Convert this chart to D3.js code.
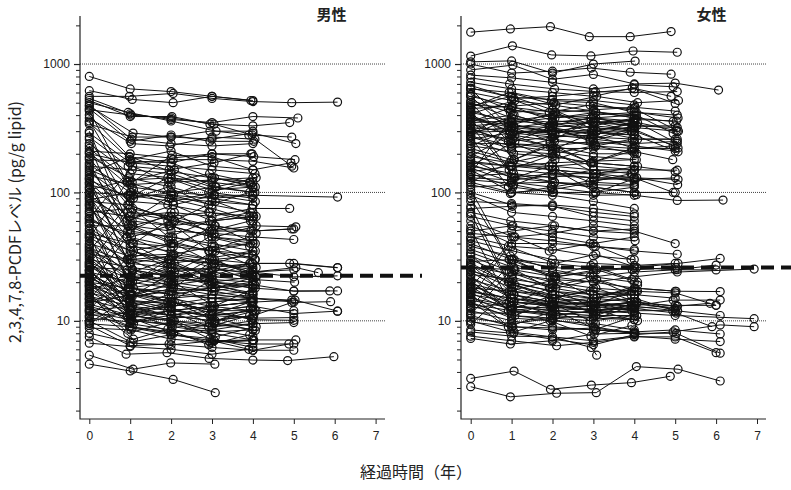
<!DOCTYPE html>
<html><head><meta charset="utf-8">
<script src="https://cdn.jsdelivr.net/npm/d3@7"></script>
<style>
body{margin:0;background:#fff;}
svg{display:block;}
text{font-family:"Liberation Sans",Arial,sans-serif;}
.cjk{font-family:"Noto Sans CJK JP","Noto Sans",sans-serif;}
</style></head>
<body>
<svg id="c" width="791" height="490"></svg>
<script>
// ---- data: each subject is a flat list of [time(years), level(pg/g lipid)] pairs ----
const maleSeries = [
[0,800,1,640,2,610,3,560,4,520],
[0,560,0.98,560,2.05,590,3,540,4,510,4.95,500,6.07,505],
[0,620,1.05,530,2.05,500,3,560,3.95,520],
[0,540,1,410,2,370,3,350,4,390,5.1,380],
[0,520,1,390,2.02,390,2.95,340,4,330,4.9,350],
[0,500,0.95,420,2,360,3.1,300,3.9,280,4.95,270],
[0,470,1.07,290,2,270,3,260,4,290,5.05,240],
[0,450,1,250,2,280,2.95,250,4.02,250],
[0,440,1.02,400,2,380,3.05,340,3.98,280],
[0,400,0.98,190,2,170,3,200,4.02,190,5.03,180],
[0,380,1.03,240,1.97,230,3,270,4.05,260,4.95,160],
[0,350,1,180,2,210,3,160,4,150],
[0,340,1.05,270,2,270,2.95,300,4,300],
[0,290,1,170,2.05,180,3,180,4,175,5,155],
[0,270,0.95,160,1.95,150,3.05,170,3.95,200],
[0,240,1,140,2,130,3,120,4,110],
[0,220,1.05,120,2.03,195,3,190,4,150,4.93,170],
[0,210,1,200,2,185,3,200,3.98,200],
[0,190,0.97,130,2,110,3,90,4,80],
[0,180,1.02,175,2,170,3,130,4,120],
[0,165,1,100,1.95,90,3,75,4,60],
[0,150,1.05,110,2,100,3.05,95,4,95,6.07,92],
[0,145,1,85,2.05,80,3,60,4.02,65],
[0,140,0.98,190,2,145,3,130,3.95,115],
[0,135,1,115,2,120,3,125,4,130],
[0,130,1.03,70,2,65,3,55,4,50,5,52],
[0,125,1,90,2,100,3.1,110,4.05,100],
[0,120,1.05,60,1.97,55,3,45,4,40],
[0,115,0.95,95,2.05,85,3,100,4,90],
[0,110,1,65,2,70,3,65,3.98,75,4.9,75],
[0,100,1,95,2,95,3,80,4,70],
[0,95,1.02,55,2,50,3.05,48,4,45,5,43],
[0,90,1,60,2,95,3,90,4,95],
[0,85,0.97,80,2.03,60,3,50,4,55,5.05,54],
[0,80,1,50,2,45,3,40,4,35],
[0,75,1.05,40,2,38,3,35,4.05,30],
[0,70,1,75,2,65,2.95,70,4,60],
[0,65,1,38,2,35,3,30,4,28,5,28,6.07,26],
[0,62,1.03,45,1.95,55,3,45,4,42],
[0,58,1,30,2.05,32,3.05,28,4,25],
[0,55,0.95,55,2,40,3,50,3.95,50,4.95,52],
[0,52,1,35,2,30,3,28,4,24,5,25],
[0,50,1.05,25,2,22,3,20,4,18],
[0,48,1,40,2,28,3,22,4,21,5.02,20],
[0,45,1,28,2.02,26,3,25,4,24,5,22,6.07,22.4],
[0,42,1.02,22,2,20,3,18,4,16],
[0,40,0.97,32,2,33,3,30,4,32],
[0,38,1,20,2,18,3.05,17,4,15,4.95,14.5],
[0,36,1.05,24,1.95,30,3,28,4,26],
[0,34,1,22,2,21,3,20,4.05,19,5,17,5.88,17.1],
[0,32,1,18,2.05,16,3,15,4,14],
[0,30,1.02,26,2,24,3,26,3.98,28,4.9,28,6.07,25.9],
[0,29,1,14,2,14,3,12,4,13,5,11.4,6.07,11.9],
[0,28,0.97,18,2,20,3,22,4,24,5.05,26,5.6,23.7],
[0,27,1,16,2,15,2.95,13,4,12],
[0,26,1.05,25,2,22,3,24,4,22],
[0,25,1,13,2,12,3,11,4,10.5,5,10.6],
[0,24,1,20,1.97,26,3.05,20,4,18,5,17.1,6.07,17.1],
[0,23,1.02,12,2,11,3,10,4.02,11,4.95,13.9,5.9,14.1],
[0,22,1,15,2.05,18,3,16,4,15],
[0,21,1,11,2,12,3,13,4,14,5.03,14.5,6.07,11.9],
[0,20,0.95,18,2,16,3,18,4,20],
[0,19.5,1.05,10,2,9.5,3,9,4,10],
[0,19,1,16,2,13,3,14,3.95,15,5,14],
[0,18,1,12,2.03,14,3,12,4,12],
[0,17.5,1.02,22,2,24,3,20,4,22],
[0,17,1,11,2,10,3.05,9.5,4,8.5],
[0,16.5,0.98,14,2,12,3,11,4.05,12,5,12],
[0,16,1,9.5,2,8.5,3,8,4,7.1,5.05,7.1],
[0,15.5,1.05,13,2,15,3,16,4,17],
[0,15,1,10,2,11,3,12,4,13],
[0,14.5,1,12,2.05,10,3,9,4,9.5,5,9.7],
[0,14,0.95,18,1.97,17,3,15,4,16],
[0,13.5,1,11,2,10,3.05,7,4,6.6,5,6.6],
[0,13,1.02,10.5,2,12,3,13,3.98,14],
[0,12.5,1,9,2,8,2.95,6.8,4.02,7.1],
[0,12,1,13,2,11,3,10,4,11],
[0,11.5,1.05,8.8,2,7.8,3,7,4,5.9,5,5.9],
[0,11,1,11.5,2.03,9,3,8.2,4,8.5],
[0,10.5,1,9.8,2,10.5,3,11,4,12],
[0,10,1.07,6.7,2,6.5,3.05,7,4,7.1],
[0,9.5,0.98,9,2,8.2,3,8.5,4,9.5],
[0,9.2,1,6.4,1.95,6.6,3,6.2,4,5.9,4.88,6.6],
[0,8.8,1.02,8.5,2,7.2,3,6.8,4,7],
[0,8,1,6.8,2,7.8,2.95,7.3,4,6.2],
[0,7.5,0.9,5.5,1.9,5.65,2.93,5.1,4,4.95,4.85,4.9,5.98,5.26],
[0,6.7,1,6.3,2,6,3,5.5,3.9,6],
[0,5.4,1.07,4.2,1.99,4.7,3.07,4.6],
[0,4.6,1,4.07,2.05,3.5,3.08,2.76],
[0,200,1,170,2,160,3,150,4.05,140],
[0,160,1.05,150,2,140,3,110,4,100],
[0,105,1,125,2,130,3,105,4,110],
[0,88,1.03,100,2,90,3,85,4,80],
[0,72,0.96,65,2,55,3,60,4,65],
[0,60,1,48,2.04,45,3,38,4,40],
[0,46,1.02,35,2,40,3.02,35,4,33],
[0,37,1,28,2,32,3,26,4,23],
[0,33,1.05,30,2,28,3,31,4,35],
[0,31,1,16,2,19,3,21,4,20],
[0,28.5,1.02,21,2.03,19,3,17,4,19],
[0,26.5,1,19,2,23,2.97,19,4,16.5],
[0,24.5,0.97,14.5,2,13.5,3,15,4,14.5],
[0,22.5,1,17,2,14,3,11.5,4,10.5],
[0,21.5,1.05,15.5,2.02,17,3,18,4,19],
[0,20.5,1,12.5,2,11,3.03,13,4,14],
[0,18.5,1,14.5,2,12.5,3,10.5,4,9],
[0,13.8,1.04,16,2,14,3,12,3.97,10.2,5,10.1],
[0,11.8,1,10.2,2,9.2,3,8.6,4,7.6],
[0,9.8,1.02,12,2,13,3,14,4,15],
[0,480,1.03,260,2,240,3,230,4,240],
[0,430,0.93,120,2.08,150,3.08,110,4.08,130],
[0,360,1.08,95,1.92,130,2.92,100,3.92,120],
[0,300,0.92,60,2.06,80,3.06,95,4.06,85],
[0,260,1.06,75,1.94,45,2.94,60,3.94,70],
[0,230,0.94,50,2.08,70,3.08,45,4.08,55],
[0,170,1.08,40,1.92,60,2.92,35,3.92,45],
[0,128,0.92,30,2.06,40,3.06,28,4.06,35],
[0,118,1.06,25,1.94,20,2.94,30,3.94,24],
[0,98,0.94,20,2.08,28,3.08,18,4.08,22],
[0,82,1.08,18,1.92,14,2.92,20,3.92,16],
[0,68,0.92,15,2.06,20,3.06,13,4.06,18],
[0,57,1.06,13,1.94,16,2.94,11,3.94,14],
[0,47,0.94,11,2.08,14,3.08,10,4.08,12],
[0,39,1.08,9.5,1.92,12,2.92,9,3.92,11],
[0,12.2,0.92,25,2.06,18,3.06,30,4.06,22],
[0,10.8,1.06,20,1.94,30,2.94,22,3.94,28],
[0,9.6,0.94,15,2.08,24,3.08,35,4.08,26],
[0,14.8,1.08,35,1.92,28,2.92,45,3.92,38],
[0,18.8,0.92,45,2.06,38,3.06,55,4.06,40],
[0,23.5,1.06,55,1.94,65,2.94,50,3.94,60],
[0,27.5,0.94,70,2.08,60,3.08,85,4.08,65],
[0,35,1.08,90,1.92,110,2.92,80,3.92,100],
[0,44,0.92,120,2.06,95,3.06,130,4.06,110],
[0,63,1.06,160,1.94,120,2.94,140,3.94,120],
[0,78,0.94,30,2.08,22,3.08,26,4.08,20],
[0,92,1.08,35,1.92,26,2.92,24,3.92,28],
[0,108,0.92,45,2.06,33,3.06,38,4.06,30],
[0,155,1.06,55,1.94,42,2.94,35,3.94,40],
[0,185,0.94,80,2.08,60,3.08,55,4.08,48],
[0,205,1.08,105,1.92,80,2.92,70,3.92,65],
[0,16.2,0.94,8,2.08,10,3.08,7.5,4.08,9],
[0,13.2,1.08,7.2,1.92,8.6,2.92,6.5,3.92,7.8],
[0,20.2,0.92,10.8,2.06,8,3.06,9.8,4.06,8.4],
[0,24.8,1.06,11.2,1.94,13,2.94,9.6,3.94,12.5]
];
const femaleSeries = [
[0,1770,0.97,1875,1.95,1955,2.9,1634,3.9,1634,4.9,1790],
[0,1154,1.02,1387,1.98,1177,2.94,1157,3.97,1263,5.05,1235],
[0,1040,1,1058,2,850,3,1000,4.02,1055],
[0,1000,1,850,2,880,2.95,930,3.9,863,4.9,833],
[0,900,1.03,980,2,760,3,830,4,700,5,710,6.06,627],
[0,820,1,780,2,720,3,640,4,690,4.95,665],
[0,780,0.95,700,2.05,640,3.05,610,4,600,5.05,610],
[0,720,1,640,2,600,3,560,3.95,650,4.9,560],
[0,680,1.05,540,2,560,3,600,4,640,5,493],
[0,640,1,600,1.97,520,3,500,4,420,5.05,400],
[0,600,1,520,2,480,3,430,4,380,4.95,357],
[0,560,1.03,470,2.03,500,3,470,4,450,5.02,305],
[0,520,0.97,420,2,440,3.05,420,4.05,400,4.95,288],
[0,500,1,380,2,350,3,380,4,360,5.05,241],
[0,470,1,560,2,440,3,330,4,310,5.07,222],
[0,440,1.05,330,2,300,2.97,290,4,280,5.07,207],
[0,420,1,360,2.02,400,3,360,3.97,330,5,330],
[0,400,0.95,300,2,280,3,260,4,240,5.05,250],
[0,380,1,330,2,320,3,350,4.02,370,5.03,360],
[0,360,1.02,400,2,330,3,320,4,300,5,230],
[0,340,1,280,2.05,250,3.02,240,4,250],
[0,330,1,350,2,380,3,400,4.05,420,5.07,380],
[0,320,1.05,300,1.97,300,3,300,4,350],
[0,310,0.98,250,2,270,3,280,4,220,5,220],
[0,300,1,320,2,350,2.95,300,4,280],
[0,290,1.03,260,2,230,3,200,4,200],
[0,280,1,380,2,320,3,280,4,330],
[0,270,1,220,2.03,260,3.05,230,3.95,260,5.05,260],
[0,260,0.97,290,2,300,3,330,4,380],
[0,250,1.05,200,2,190,3,170,4,160],
[0,240,1,240,2,230,3,250,4.02,230,5,210],
[0,220,1,180,2,160,3,150,4,150,5.05,149],
[0,200,1.02,150,2,140,3,130,4,130,5.07,126],
[0,190,0.95,170,2,200,3,160,4,150],
[0,180,1,130,2.05,120,3,110,4,100,5,100],
[0,170,1,160,2,150,3.05,140,4,130,4.95,100],
[0,160,1.05,140,2,130,3,150,3.95,140],
[0,155,1,120,1.97,110,3,100,4,95,5.05,86.6,6.17,87.2],
[0,150,1,100,2,105,3,120,4,115],
[0,145,0.97,160,2,170,3,175,4,180],
[0,140,1.03,110,2.03,100,3,95,4.05,96],
[0,130,1,125,2,135,3,130,4,125,5,130],
[0,120,1,100,2,95,3,85,4,75],
[0,110,1.05,115,2,100,3.05,100,4,110],
[0,100,1,80,2,78,3,65,4,60],
[0,95,1,70,2,65,3,60,4,55],
[0,75,1.02,78,2,80,3,75,4,68],
[0,70,0.98,60,2.05,55,3,50,4,48],
[0,65,1,55,2,50,3,45,4.02,42],
[0,60,1.05,45,2,48,3,55,4,50,5,40],
[0,55,1,40,2,40,3.05,38,4,35,5.05,33],
[0,45,1,38,2,36,3,32,4,30],
[0,42,1.03,35,2,30,3,28,4,27,5,28],
[0,40,1,30,1.97,28,3,26,3.95,25,5.02,26],
[0,38,0.97,32,2,25,3,22,4,20],
[0,36,1,28,2.03,22,3,20,4,18,5,17],
[0,34,1.05,26,2,24,3,22,4,24,5.05,25,6,27.2],
[0,32,1,24,2,20,3,18,4.05,17],
[0,30,1,22,2,18,3,16,4,16,5,15],
[0,29,1.02,30,2,26,3,25,4,26,5.07,28,6.1,30.6],
[0,28,0.95,20,2,17,3.02,15,4,14],
[0,27,1,19,2,16,3,14,4,13,5,12],
[0,26,1.05,25,2.05,22,3,24,4,26,5,25,6,24.9],
[0,25,1,18,2,15,3,13,4,12],
[0,24,1,16,2,14,3.05,13,4,14,5.05,13],
[0,23,1.03,21,2,19,3,17,4,16],
[0,22,1,15,1.97,13,3,12,4,12.5,5,13.2,6,13.2],
[0,21,1,17,2,16,3,15,4.02,18,5.02,17,6.1,16.9],
[0,20,0.98,13,2,12,3,11.5,4,12],
[0,19.5,1.05,16,2,14,3,15,4,16],
[0,19,1,14,2.03,13,3,12,3.95,13,4.95,14.5,6.1,14.5],
[0,18.5,1,12,2,11.5,3,11,4,11],
[0,18,1.02,17,2,15,3.05,14,4,15],
[0,17.5,1,13,2,12,3,12.5,4,14,5.05,13,5.85,13.7],
[0,17,0.97,15,2,14,3,13.5,4,13],
[0,16.5,1,12,1.95,11,3,10.5,4,10.2],
[0,16,1.05,14,2,13,3,12,4.05,13.5,5,12.5],
[0,15.5,1,11,2,10.5,3,10,4,11],
[0,15,1,13,2.05,12.5,3,13,4,14],
[0,14.5,1.02,12.5,2,11,3,12,4,12.5,5.02,11.5,5.9,9],
[0,14,1,10.5,2,10,3.05,9.5,4,8.5],
[0,13.5,0.98,12,2,13,3,13,4,14],
[0,13,1,11,2,10.2,3,9,4,8],
[0,12.5,1.05,14,2.03,13.5,3,14,4,15,5,12,6.1,11],
[0,12,1,10,2,9,3,8.5,4,8.2,5,8.5,6.1,7.9],
[0,11.5,1,11.5,2,12,3,11.5,4,12],
[0,11,1.03,9,2,8.5,3.02,8.8,4,8],
[0,10.5,1,9.5,2,10.5,3,11,4,10.2],
[0,10,0.97,8.2,2,7.5,3,7,4,7.6,5,7.2,6.1,6.9],
[0,9.8,1,9,2,8.8,3.05,8.5,4,8],
[0,8.5,1.05,8,2,7.2,3,6.5,4,7.8,4.95,8.2,6.1,9.3,6.93,9],
[0,8.2,1,7.6,2,7.5,2.95,6.2,3.08,5.4],
[0,7.6,1,7,2.1,6.4,3,6.8,4,7.5,5,7.5,6,5.65],
[0,7.3,0.97,6.6,2,7,3.02,7.9,4.02,8,5.03,8,6.1,5.6],
[0,3.56,1.06,4.06,1.95,2.93,2.95,3.16,3.93,3.3,4.88,3.7],
[0,3.07,0.97,2.56,2.1,2.73,3.07,2.76,4.05,4.4,5.07,4.2,6.1,3.4],
[0,24.5,1,20,2,17,3,16,4,17,5,16.5,6,13.2],
[0,16.8,1,15,2,13.5,3,12,4,11.5,5,11,6.93,10.4],
[0,26.5,1.02,23,2,21,3,20,4,22,5.05,24,6.93,25.3],
[0,650,1,550,2,530,3,520,4,480],
[0,580,0.97,440,2,400,3,380,4,400],
[0,480,1,460,2.05,420,3,440,4.02,460,5,430],
[0,450,1,470,2,360,3.05,350,4,330,5.05,320],
[0,390,1.03,290,2,270,3,300,4,300],
[0,370,1,320,2,300,2.95,270,4,260,5,260],
[0,350,1,360,2.03,340,3,350,3.97,360],
[0,315,0.98,240,2,220,3,220,4,210],
[0,295,1.05,300,2,290,3,310,4,320,5.05,300],
[0,275,1,230,2,210,3,190,4.05,180],
[0,230,1,210,2,200,3,230,4,220,4.95,230],
[0,210,1.02,170,2,150,3,140,4,120],
[0,175,1,160,2,160,3,170,4,160,5,145],
[0,165,1.05,130,2,140,3,140,4,145],
[0,135,1,140,2.05,120,3,115,4,112],
[0,115,0.97,98,2,110,3.02,125,4,130],
[0,125,1,118,2,120,3,110,4,100],
[0,85,1,82,2,78,3,70,4,65],
[0,50,1.03,55,2,45,3,40,4,45],
[0,48,1,45,2,42,3,38,4,36],
[0,44,1,50,2,55,3,50,4,52],
[0,640,0.93,330,2.08,420,3.08,300,4.08,350,5.08,300],
[0,560,1.08,280,1.92,330,2.92,250,3.92,300],
[0,500,0.92,250,2.06,180,3.06,230,4.06,200],
[0,430,1.06,180,1.94,240,2.94,170,3.94,210,4.94,180],
[0,380,0.94,150,2.08,200,3.08,140,4.08,160],
[0,330,1.08,130,1.92,160,2.92,120,3.92,140],
[0,270,0.92,110,2.06,150,3.06,100,4.06,130,5.06,115],
[0,230,1.06,320,1.94,250,2.94,360,3.94,300],
[0,190,0.94,280,2.08,220,3.08,300,4.08,260],
[0,160,1.08,250,1.92,320,2.92,260,3.92,310],
[0,140,0.92,350,2.06,280,3.06,380,4.06,330],
[0,120,1.06,180,1.94,230,2.94,170,3.94,220],
[0,105,0.94,30,2.08,22,3.08,25,4.08,20],
[0,90,1.08,25,1.92,18,2.92,22,3.92,16],
[0,78,0.92,20,2.06,15,3.06,18,4.06,14],
[0,68,1.06,16,1.94,13,2.94,14,3.94,12,4.94,12],
[0,52,0.94,14,2.08,11,3.08,12,4.08,10],
[0,18.2,1.08,45,1.92,35,2.92,40,3.92,30],
[0,15.2,0.92,38,2.06,28,3.06,33,4.06,26],
[0,12.8,1.06,30,1.94,22,2.94,27,3.94,21],
[0,11.2,0.94,24,2.08,18,3.08,21,4.08,17],
[0,9.4,1.08,19,1.92,15,2.92,17,3.92,14],
[0,22.5,0.92,12,2.06,16,3.06,11,4.06,14,5.06,12],
[0,27.5,1.06,14,1.94,18,2.94,13,3.94,17],
[0,33,0.94,17,2.08,21,3.08,15,4.08,19],
[0,20.5,1.08,11,1.92,14,2.92,10,3.92,13],
[0,16.2,0.92,9,2.06,12,3.06,8.6,4.06,11],
[0,14.2,1.06,8.2,1.94,10,2.94,7.6,3.94,9.2],
[0,460,0.94,600,2.08,480,3.08,560,4.08,500,5.08,520],
[0,410,1.08,520,1.92,420,2.92,480,3.92,440],
[0,355,0.92,450,2.06,380,3.06,420,4.06,380],
[0,300,1.06,400,1.94,330,2.94,380,3.94,340]
];
const panelTitles = ["男性", "女性"];
const referenceLevels = [22.4, 26];          // thick dashed lines
const xTickValues = [0,1,2,3,4,5,6,7];
const yMajorTicks = [10,100,1000];
const yMinorTicks = [2,3,4,5,6,7,8,9,20,30,40,50,60,70,80,90,200,300,400,500,600,700,800,900,2000];
const yAxisTitle = "2,3,4,7,8-PCDFレベル (pg/g lipid)";
const xAxisTitle = "経過時間（年）";

// ---- drawing ----
const svg = d3.select("#c");
const y = d3.scaleLog().domain([1.72, 2366]).range([419, 16]);

const panels = [
  {series: maleSeries, axisX: 80, axisEnd: 385, x0: 89.3, x7: 375.6, titleX: 331.5, refEnd: 422},
  {series: femaleSeries, axisX: 461, axisEnd: 766, x0: 470.7, x7: 757, titleX: 711.5, refEnd: 791}
];

panels.forEach((p, i) => {
  const x = d3.scaleLinear().domain([0,7]).range([p.x0, p.x7]);
  const g = svg.append("g");

  g.selectAll("line.grid").data(yMajorTicks).join("line")
    .attr("x1", p.axisX).attr("x2", p.axisEnd)
    .attr("y1", d => y(d)).attr("y2", d => y(d))
    .attr("stroke", "#444").attr("stroke-width", 1).attr("stroke-dasharray", "1,1");

  g.append("g").attr("transform", `translate(${p.axisX},0)`)
    .call(d3.axisLeft(y).tickValues(yMinorTicks).tickSize(4).tickFormat(""))
    .call(a => a.select(".domain").remove())
    .selectAll("line").attr("stroke", "#222");
  const ya = g.append("g").attr("transform", `translate(${p.axisX},0)`)
    .call(d3.axisLeft(y).tickValues(yMajorTicks).tickSize(6).tickPadding(4).tickFormat(d3.format("d")))
    .call(a => a.select(".domain").remove());
  ya.selectAll("line").attr("stroke", "#222").attr("stroke-width", 1.2);
  ya.selectAll("text").attr("font-size", 12).attr("fill", "#222")
    .attr("font-family", "'Liberation Sans', Arial, sans-serif");

  const xa = g.append("g").attr("transform", `translate(0,419)`)
    .call(d3.axisBottom(x).tickValues(xTickValues).tickSize(5).tickPadding(7).tickFormat(d3.format("d")))
    .call(a => a.select(".domain").remove());
  xa.selectAll("line").attr("stroke", "#222");
  xa.selectAll("text").attr("font-size", 12).attr("fill", "#222")
    .attr("font-family", "'Liberation Sans', Arial, sans-serif");

  g.append("path")
    .attr("d", `M${p.axisX},16V419H${p.axisEnd}`)
    .attr("fill", "none").attr("stroke", "#222").attr("stroke-width", 1.2);

  const line = d3.line().x(d => x(d[0])).y(d => y(d[1]));
  const subjects = p.series.map(s => {
    const pts = [];
    for (let k = 0; k < s.length; k += 2) pts.push([s[k], s[k+1]]);
    return pts;
  });
  const sg = g.append("g");
  subjects.forEach(pts => {
    sg.append("path").attr("d", line(pts))
      .attr("fill", "none").attr("stroke", "#111").attr("stroke-width", 1);
    sg.selectAll(null).data(pts).join("circle")
      .attr("cx", d => x(d[0])).attr("cy", d => y(d[1])).attr("r", 4)
      .attr("fill", "none").attr("stroke", "#111").attr("stroke-width", 1.2);
  });

  g.append("line")
    .attr("x1", p.axisX).attr("x2", p.refEnd)
    .attr("y1", y(referenceLevels[i])).attr("y2", y(referenceLevels[i]))
    .attr("stroke", "#111").attr("stroke-width", 4).attr("stroke-dasharray", "13,7");

  g.append("text").attr("class", "cjk")
    .attr("x", p.titleX).attr("y", 20).attr("text-anchor", "middle")
    .attr("font-size", 15).attr("font-weight", 700).attr("fill", "#222")
    .text(panelTitles[i]);
});

svg.append("text").attr("class", "cjk")
  .attr("transform", "translate(21,222) rotate(-90)")
  .attr("text-anchor", "middle").attr("font-size", 16).attr("fill", "#222")
  .text(yAxisTitle);

svg.append("text").attr("class", "cjk")
  .attr("x", 416).attr("y", 478).attr("text-anchor", "middle")
  .attr("font-size", 16).attr("fill", "#222")
  .text(xAxisTitle);
</script>
</body></html>
